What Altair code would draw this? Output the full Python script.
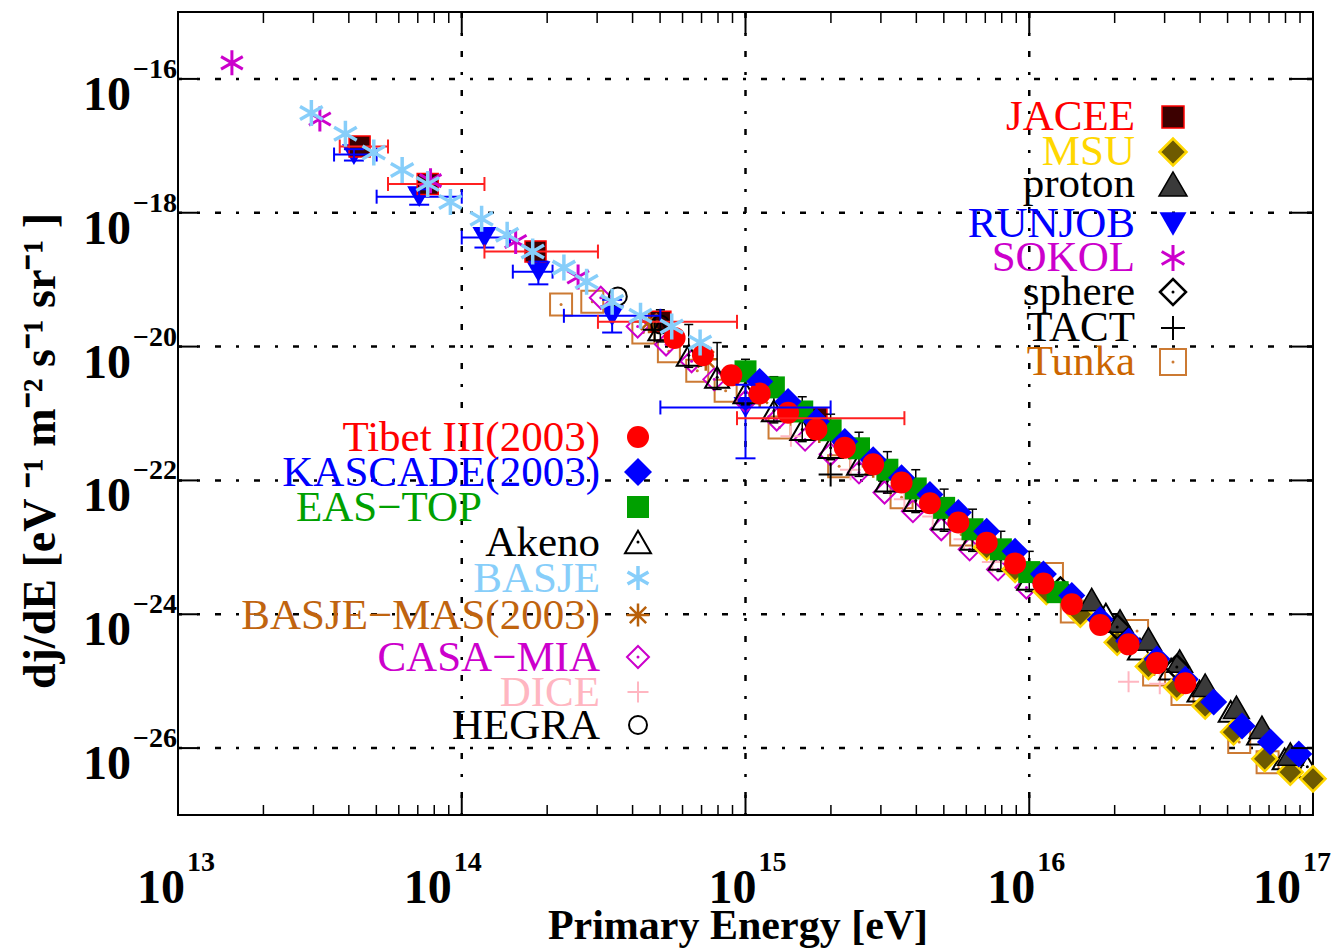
import altair as alt
import numpy as np
import pandas as pd

# ---------------- data: log10(E / eV) and log10(dJ/dE) ----------------
tibet_logE = [14.75, 14.85, 14.95, 15.05, 15.15, 15.25, 15.35, 15.45, 15.55, 15.65,
              15.75, 15.85, 15.95, 16.05, 16.15, 16.25, 16.35, 16.45, 16.55]
tibet_logF = [-19.87, -20.13, -20.43, -20.70, -20.99, -21.24, -21.51, -21.76, -22.03, -22.34,
              -22.63, -22.93, -23.24, -23.54, -23.85, -24.16, -24.45, -24.73, -25.03]

kascade_logE = [15.05, 15.15, 15.25, 15.35, 15.45, 15.55, 15.65, 15.75, 15.85, 15.95,
                16.05, 16.15, 16.25, 16.35, 16.45, 16.55, 16.65, 16.75, 16.85, 16.95]
kascade_logF = [-20.52, -20.82, -21.12, -21.42, -21.69, -21.96, -22.21, -22.48, -22.76, -23.06,
                -23.40, -23.72, -24.08, -24.40, -24.67, -24.97, -25.31, -25.67, -25.91, -26.09]

eastop_logE = [15.0, 15.1, 15.2, 15.3, 15.4, 15.5, 15.6, 15.7, 15.8, 15.9, 16.0, 16.1]
eastop_logF = [-20.37, -20.61, -20.97, -21.25, -21.52, -21.84, -22.12, -22.41, -22.73, -23.03,
               -23.37, -23.67]

akeno_logE = [14.7, 14.8, 14.9, 15.0, 15.1, 15.2, 15.3, 15.4, 15.5, 15.6, 15.7, 15.8, 15.9, 16.0]
akeno_logF = [-19.75, -20.13, -20.46, -20.69, -20.96, -21.24, -21.51, -21.76, -22.01, -22.30,
              -22.58, -22.88, -23.18, -23.48]
akeno_logF_hi = [-19.45, -19.67, -19.94, -20.19, -20.45, -20.75, -21.01, -21.28, -21.57, -21.84,
                 -22.13, -22.43, -22.76, -23.06]
akeno_logF_lo = [-19.93, -20.31, -20.64, -20.87, -21.14, -21.42, -21.69, -21.94, -22.19, -22.48,
                 -22.76, -23.06, -23.36, -23.66]
akeno2_logE = [16.27, 16.39, 16.50, 16.60, 16.71, 16.81, 16.90, 16.98]
akeno2_logF = [-24.00, -24.52, -24.82, -25.15, -25.45, -25.79, -26.16, -26.28]

basje_logE = [13.47, 13.59, 13.69, 13.79, 13.88, 13.96, 14.07, 14.16, 14.25, 14.36,
              14.44, 14.53, 14.63, 14.74, 14.84]
basje_logF = [-16.51, -16.82, -17.10, -17.36, -17.57, -17.84, -18.09, -18.33, -18.58, -18.82,
              -19.03, -19.33, -19.54, -19.70, -19.94]

basjemas_logE = [14.66, 14.86, 15.05, 15.26, 15.45]
basjemas_logF = [-19.63, -20.19, -20.73, -21.27, -21.79]

casamia_logE = [14.49, 14.62, 14.72, 14.81, 14.89, 15.00, 15.11, 15.21, 15.30, 15.40,
                15.49, 15.59, 15.69, 15.79, 15.89, 15.99]
casamia_logF = [-19.27, -19.70, -19.97, -20.22, -20.49, -20.82, -21.09, -21.39, -21.61, -21.88,
                -22.18, -22.46, -22.73, -23.03, -23.33, -23.60]

dice_logE = [15.16, 15.37, 15.56, 15.66, 15.77, 15.87, 16.35, 16.46]
dice_logF = [-21.34, -21.84, -22.28, -22.54, -22.88, -23.22, -25.01, -25.04]

hegra_logE = [14.55, 14.70]
hegra_logF = [-19.25, -19.67]

jacee_logE = [13.64, 13.88, 14.26, 14.70, 15.25]
jacee_logF = [-17.01, -17.57, -18.58, -19.63, -21.07]
jacee_logE_lo = [13.57, 13.74, 14.08, 14.48, 14.97]
jacee_logE_hi = [13.74, 14.08, 14.48, 14.97, 15.56]

msu_logE = [15.85, 15.95, 16.06, 16.18, 16.31, 16.42, 16.52, 16.62, 16.72, 16.83, 16.92, 17.0]
msu_logF = [-23.00, -23.33, -23.66, -24.00, -24.42, -24.78, -25.09, -25.37, -25.76, -26.16,
            -26.36, -26.46]

proton_logE = [16.22, 16.32, 16.42, 16.53, 16.62, 16.73, 16.82, 16.92]
proton_logF = [-23.78, -24.10, -24.37, -24.70, -25.06, -25.39, -25.69, -26.09]

runjob_logE = [13.62, 13.85, 14.08, 14.27, 14.53, 15.00]
runjob_logF = [-17.13, -17.76, -18.37, -18.88, -19.54, -20.91]
runjob_logE_lo = [13.55, 13.70, 14.00, 14.18, 14.36, 14.70]
runjob_logE_hi = [13.70, 14.00, 14.17, 14.32, 14.70, 15.30]
runjob_logF_lo = [-17.22, -17.88, -18.52, -19.07, -19.79, -21.67]
runjob_logF_hi = [-17.05, -17.65, -18.25, -18.73, -19.30, -20.57]

sokol_logE = [13.19, 13.50, 13.89, 14.19, 14.41]
sokol_logF = [-15.76, -16.60, -17.52, -18.43, -18.96]

sphere_logE = [16.11, 16.31, 16.52]
sphere_logF = [-23.63, -24.19, -24.79]

tact_logE = [14.68, 15.30]
tact_logF = [-19.75, -21.91]

tunka_logE = [14.35, 14.46, 14.64, 14.73, 14.83, 14.93, 15.12, 15.33, 15.55, 15.76,
              16.08, 16.15, 16.38, 16.44, 16.54, 16.74, 16.84]
tunka_logF = [-19.37, -19.33, -19.79, -20.07, -20.36, -20.66, -21.21, -21.79, -22.25, -22.81,
              -23.40, -23.96, -24.25, -24.90, -25.19, -25.91, -26.21]

# axis labels
x_label_values = [1e13, 1e14, 1e15, 1e16, 1e17]
x_label_exps = ["13", "14", "15", "16", "17"]
y_label_values = [1e-16, 1e-18, 1e-20, 1e-22, 1e-24, 1e-26]
y_label_exps = ["\u221216", "\u221218", "\u221220", "\u221222", "\u221224", "\u221226"]

left_legend = ["Tibet III(2003)", "KASCADE(2003)", "EAS\u2212TOP", "Akeno", "BASJE",
               "BASJE\u2212MAS(2003)", "CASA\u2212MIA", "DICE", "HEGRA"]
right_legend = ["JACEE", "MSU", "proton", "RUNJOB", "SOKOL", "sphere", "TACT", "Tunka"]

# ---------------- layout / style ----------------
W, H = 1135, 803
SERIF = "Liberation Serif"
xs = alt.Scale(type="log", domain=[1e13, 1e17], nice=False)
ys = alt.Scale(type="log", domain=[1e-27, 1e-15], nice=False)


def tbl(**cols):
    return pd.DataFrame({k: np.power(10.0, np.asarray(v, dtype=float)) for k, v in cols.items()})


def ex(field="E"):
    return alt.X(f"{field}:Q", scale=xs, axis=None)


def ey(field="F"):
    return alt.Y(f"{field}:Q", scale=ys, axis=None)


ASTER6 = "M0,-1L0,1M-0.87,-0.5L0.87,0.5M-0.87,0.5L0.87,-0.5"
ASTER8 = "M0,-1L0,1M-1,0L1,0M-0.71,-0.71L0.71,0.71M-0.71,0.71L0.71,-0.71"
PLUS = "M-1,0L1,0M0,-1L0,1"
VCAP = "M0,-1L0,1"
HCAP = "M-1,0L1,0"

STYLE = {
    "tibet": dict(shape="circle", filled=True, color="#ff0000", size=484),
    "kascade": dict(shape="diamond", filled=True, color="#0000ff", size=729),
    "eastop": dict(shape="square", filled=True, color="#00a000", size=484),
    "akeno": dict(shape="triangle-up", filled=False, color="black", size=576, strokeWidth=2),
    "basje": dict(shape=ASTER6, filled=False, color="#87cefa", size=676, strokeWidth=3.5),
    "basjemas": dict(shape=ASTER8, filled=False, color="#b8600b", size=529, strokeWidth=2.5),
    "casamia": dict(shape="diamond", filled=False, color="#cc00cc", size=484, strokeWidth=2),
    "dice": dict(shape=PLUS, filled=False, color="#ffb6c1", size=441, strokeWidth=2),
    "hegra": dict(shape="circle", filled=False, color="black", size=324, strokeWidth=2),
    "jacee": dict(shape="square", filled=True, fill="#3c0000", stroke="#ff0000", strokeWidth=1.5, size=441),
    "msu": dict(shape="diamond", filled=True, fill="#6e5a00", stroke="#ffd700", strokeWidth=2.5, size=625),
    "proton": dict(shape="triangle-up", filled=True, fill="#3a3a3a", stroke="black", strokeWidth=1.5, size=676),
    "runjob": dict(shape="triangle-down", filled=True, color="#0000ff", size=576),
    "sokol": dict(shape=ASTER6, filled=False, color="#cc00cc", size=625, strokeWidth=3),
    "sphere": dict(shape="diamond", filled=False, color="black", size=576, strokeWidth=2.5),
    "tact": dict(shape=PLUS, filled=False, color="black", size=576, strokeWidth=2),
    "tunka": dict(shape="square", filled=False, color="#cc7a33", size=484, strokeWidth=2),
}
DOT = {"akeno": "black", "casamia": "#cc00cc", "sphere": "black", "tunka": "#cc7a33"}


def markers(df, key, size=None, x=None, y=None):
    st = dict(STYLE[key])
    if size is not None:
        st["size"] = size
    enc = dict(x=x if x is not None else ex(), y=y if y is not None else ey())
    out = [alt.Chart(df).mark_point(opacity=1, **st).encode(**enc)]
    if key in DOT:
        out.append(alt.Chart(df).mark_point(shape="circle", filled=True, size=9, opacity=1,
                                            color=DOT[key]).encode(**enc))
    return out


def hbars(df, color, width=2, cap=14):
    c = dict(shape=VCAP, filled=False, size=cap * cap, strokeWidth=width, color=color, opacity=1)
    return [
        alt.Chart(df).mark_rule(color=color, strokeWidth=width).encode(x=ex("Elo"), x2=alt.X2("Ehi:Q"), y=ey()),
        alt.Chart(df).mark_point(**c).encode(x=ex("Elo"), y=ey()),
        alt.Chart(df).mark_point(**c).encode(x=ex("Ehi"), y=ey()),
    ]


def vbars(df, color, width=2, cap=14):
    c = dict(shape=HCAP, filled=False, size=cap * cap, strokeWidth=width, color=color, opacity=1)
    return [
        alt.Chart(df).mark_rule(color=color, strokeWidth=width).encode(x=ex(), y=ey("Flo"), y2=alt.Y2("Fhi:Q")),
        alt.Chart(df).mark_point(**c).encode(x=ex(), y=ey("Flo")),
        alt.Chart(df).mark_point(**c).encode(x=ex(), y=ey("Fhi")),
    ]


layers = []

# grid
DASH = [6, 15, 3, 15]
layers.append(alt.Chart(pd.DataFrame({"E": [1e14, 1e15, 1e16]})).mark_rule(
    color="black", strokeWidth=2.5, strokeDash=DASH).encode(x=ex()))
layers.append(alt.Chart(pd.DataFrame({"F": y_label_values})).mark_rule(
    color="black", strokeWidth=2.5, strokeDash=DASH).encode(y=ey()))

runjob_df = tbl(E=runjob_logE, F=runjob_logF, Elo=runjob_logE_lo, Ehi=runjob_logE_hi,
                Flo=runjob_logF_lo, Fhi=runjob_logF_hi)
jacee_df = tbl(E=jacee_logE, F=jacee_logF, Elo=jacee_logE_lo, Ehi=jacee_logE_hi)

# data series (back to front)
layers += markers(runjob_df, "runjob")
layers += markers(jacee_df, "jacee")
layers += markers(tbl(E=tunka_logE, F=tunka_logF), "tunka")
layers += markers(tbl(E=casamia_logE, F=casamia_logF), "casamia")
layers += markers(tbl(E=dice_logE, F=dice_logF), "dice")
layers += markers(tbl(E=basjemas_logE, F=basjemas_logF), "basjemas")
layers += vbars(tbl(E=akeno_logE, F=akeno_logF, Flo=akeno_logF_lo, Fhi=akeno_logF_hi), "black", 1.5, 9)
layers += markers(tbl(E=akeno_logE, F=akeno_logF), "akeno")
layers += markers(tbl(E=akeno2_logE, F=akeno2_logF), "akeno")
layers += markers(tbl(E=msu_logE, F=msu_logF), "msu")
layers += markers(tbl(E=proton_logE, F=proton_logF), "proton")
layers += markers(tbl(E=sphere_logE, F=sphere_logF), "sphere")
layers += markers(tbl(E=tact_logE, F=tact_logF), "tact")
layers += markers(tbl(E=hegra_logE, F=hegra_logF), "hegra")
layers += markers(tbl(E=eastop_logE, F=eastop_logF), "eastop")
layers += markers(tbl(E=kascade_logE, F=kascade_logF), "kascade")
layers += markers(tbl(E=tibet_logE, F=tibet_logF), "tibet")
layers += hbars(runjob_df, "#0000ff")
layers += vbars(runjob_df, "#0000ff", 2, 20)
layers += hbars(jacee_df, "#ff2020")
layers += markers(tbl(E=sokol_logE, F=sokol_logF), "sokol")
layers += markers(tbl(E=basje_logE, F=basje_logF), "basje")

# inward ticks
minor_x = [m * 10.0 ** d for d in range(13, 17) for m in range(2, 10)]
major_x = [1e14, 1e15, 1e16]
tick = dict(color="black", strokeWidth=1.5)
layers.append(alt.Chart(pd.DataFrame({"E": minor_x})).mark_rule(**tick).encode(
    x=ex(), y=alt.value(H), y2=alt.value(H - 10)))
layers.append(alt.Chart(pd.DataFrame({"E": minor_x})).mark_rule(**tick).encode(
    x=ex(), y=alt.value(0), y2=alt.value(11)))
layers.append(alt.Chart(pd.DataFrame({"E": major_x})).mark_rule(color="black", strokeWidth=2).encode(
    x=ex(), y=alt.value(H), y2=alt.value(H - 20)))
layers.append(alt.Chart(pd.DataFrame({"E": major_x})).mark_rule(color="black", strokeWidth=2).encode(
    x=ex(), y=alt.value(0), y2=alt.value(22)))
layers.append(alt.Chart(pd.DataFrame({"F": y_label_values})).mark_rule(color="black", strokeWidth=2).encode(
    y=ey(), x=alt.value(0), x2=alt.value(20)))
layers.append(alt.Chart(pd.DataFrame({"F": y_label_values})).mark_rule(color="black", strokeWidth=2).encode(
    y=ey(), x=alt.value(W), x2=alt.value(W - 22)))

# axis tick labels: "10" with raised exponent
x_label_dx = [7, -10, 11, 6, -12]
for v, e, d in zip(x_label_values, x_label_exps, x_label_dx):
    one = pd.DataFrame({"E": [v], "t": ["10"], "e": [e]})
    layers.append(alt.Chart(one).mark_text(font=SERIF, fontWeight="bold", fontSize=48, align="right",
                                           baseline="alphabetic", dx=d, color="black").encode(
        x=ex(), y=alt.value(891), text="t:N"))
    layers.append(alt.Chart(one).mark_text(font=SERIF, fontWeight="bold", fontSize=28, align="left",
                                           baseline="alphabetic", dx=d + 2, color="black").encode(
        x=ex(), y=alt.value(859), text="e:N"))

ylab = pd.DataFrame({"F": y_label_values, "t": ["10"] * len(y_label_values), "e": y_label_exps})
layers.append(alt.Chart(ylab).mark_text(font=SERIF, fontWeight="bold", fontSize=48, align="right",
                                        baseline="alphabetic", dy=31, color="black").encode(
    y=ey(), x=alt.value(-47), text="t:N"))
layers.append(alt.Chart(ylab).mark_text(font=SERIF, fontWeight="bold", fontSize=28, align="left",
                                        baseline="alphabetic", dy=-1, color="black").encode(
    y=ey(), x=alt.value(-45), text="e:N"))

# axis titles
layers.append(alt.Chart(pd.DataFrame({"t": ["Primary Energy [eV]"]})).mark_text(
    font=SERIF, fontWeight="bold", fontSize=42, align="center", baseline="alphabetic", color="black").encode(
    x=alt.value(560), y=alt.value(927), text="t:N"))
layers.append(alt.Chart(pd.DataFrame({"t": ["dj/dE      [eV \u207b\u00b9 m\u207b\u00b2 s\u207b\u00b9 sr\u207b\u00b9 ]"]})).mark_text(
    font=SERIF, fontWeight="bold", fontSize=46, align="center", baseline="middle", angle=270, color="black").encode(
    x=alt.value(-137), y=alt.value(439), text="t:N"))

# legends
left_keys = ["tibet", "kascade", "eastop", "akeno", "basje", "basjemas", "casamia", "dice", "hegra"]
left_colors = ["#ff0000", "#0000ff", "#00a000", "black", "#87cefa", "#c0640f", "#cc00cc", "#ffb6c1", "black"]
left_rows = [425, 460, 495, 530, 566, 603, 645, 680, 713]
left_text_x = [422, 422, 304, 422, 422, 422, 422, 422, 422]
right_keys = ["jacee", "msu", "proton", "runjob", "sokol", "sphere", "tact", "tunka"]
right_colors = ["#ff0000", "#ffd700", "black", "#0000ff", "#cc00cc", "black", "black", "#cc6600"]
right_rows = [105, 140, 172, 212, 246, 280, 316, 350]
legend_size = {"kascade": 784, "akeno": 676, "msu": 729, "proton": 784, "runjob": 729,
               "sokol": 676, "sphere": 676, "tunka": 676, "jacee": 484, "basje": 576}

one = pd.DataFrame({"k": [0]})
for lab, key, col, ry, tx in zip(left_legend, left_keys, left_colors, left_rows, left_text_x):
    layers.append(alt.Chart(pd.DataFrame({"t": [lab]})).mark_text(
        font=SERIF, fontSize=43, align="right", baseline="alphabetic", color=col).encode(
        x=alt.value(tx), y=alt.value(ry + 14), text="t:N"))
    layers += markers(one, key, size=legend_size.get(key), x=alt.value(460), y=alt.value(ry))
for lab, key, col, ry in zip(right_legend, right_keys, right_colors, right_rows):
    layers.append(alt.Chart(pd.DataFrame({"t": [lab]})).mark_text(
        font=SERIF, fontSize=43, align="right", baseline="alphabetic", color=col).encode(
        x=alt.value(957), y=alt.value(ry + 13), text="t:N"))
    layers += markers(one, key, size=legend_size.get(key), x=alt.value(995), y=alt.value(ry))

chart = alt.layer(*layers).properties(
    width=W, height=H,
    autosize=alt.AutoSizeParams(type="none"),
    padding={"left": 170, "top": 4, "right": 22, "bottom": 133},
    background="white",
).configure_view(stroke="black", strokeWidth=2)

chart.save("out.html", embed_options={"renderer": "svg", "actions": False})
